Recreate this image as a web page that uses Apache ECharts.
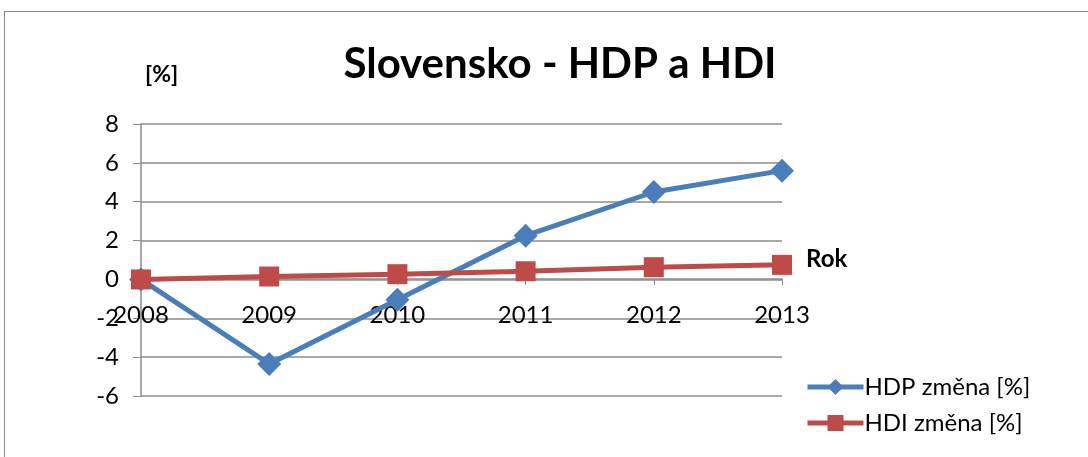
<!DOCTYPE html>
<html lang="sk">
<head>
    <meta charset="UTF-8">
    <title>Slovensko - HDP a HDI</title>
    <script src="https://cdn.jsdelivr.net/npm/echarts@6/dist/echarts.min.js"></script>
    <style>
        html, body { margin: 0; padding: 0; background: #fff; }
        #wrap { position: relative; width: 1088px; height: 457px; overflow: hidden; }
        #frame {
            position: absolute; left: 4px; top: 11px; width: 1100px; height: 460px;
            border: 1px solid #8a8a8a; box-sizing: border-box;
        }
        #chart { position: absolute; left: 0; top: 0; width: 1088px; height: 457px; }
    </style>
</head>
<body>
    <div id="wrap">
        <div id="frame"></div>
        <div id="chart"></div>
    </div>
    <script>
        var years = ['2008', '2009', '2010', '2011', '2012', '2013'];
        var hdp = [0, -4.35, -1.05, 2.25, 4.5, 5.6];
        var hdi = [0, 0.15, 0.27, 0.42, 0.63, 0.75];

        var font = 'Lato, "Open Sans", sans-serif';
        // grid height 272px, 0 sits 6/14 of it above the bottom
        var zeroOffset = -Math.round(272 * 6 / 14);
        var myChart = echarts.init(document.getElementById('chart'));
        var option = {
            animation: false,
            title: {
                text: 'Slovensko - HDP a HDI',
                left: 555,
                top: 38,
                textAlign: 'center',
                textStyle: { fontFamily: font, fontSize: 42, fontWeight: 'bold', color: '#000' }
            },
            grid: { left: 141, right: 306, top: 124, bottom: 61 },
            legend: {
                orient: 'vertical',
                left: 800,
                top: 370,
                itemWidth: 56,
                itemHeight: 20,
                itemGap: 12,
                lineStyle: { width: 5 },
                textStyle: { fontFamily: font, fontSize: 24, color: '#000', padding: [0, 0, 0, -4] },
                data: ['HDP změna [%]', 'HDI změna [%]']
            },
            xAxis: {
                type: 'category',
                data: years,
                boundaryGap: false,
                offset: zeroOffset,
                name: 'Rok',
                nameLocation: 'end',
                nameGap: 24,
                nameTextStyle: { fontFamily: font, fontSize: 24, fontWeight: 'bold', color: '#000', verticalAlign: 'bottom', padding: [0, 0, 8, 0] },
                axisLine: { onZero: false, lineStyle: { color: '#8c8c8c', width: 1.5 } },
                axisTick: { show: true, alignWithLabel: true, length: 6, lineStyle: { color: '#8c8c8c' } },
                axisLabel: { fontFamily: font, fontSize: 24, color: '#000', margin: 24 },
                splitLine: { show: false }
            },
            yAxis: {
                type: 'value',
                min: -6,
                max: 8,
                interval: 2,
                name: '[%]',
                nameLocation: 'end',
                nameGap: 38,
                nameTextStyle: { fontFamily: font, fontSize: 23, fontWeight: 'bold', color: '#000', align: 'left', padding: [0, 0, 0, 4] },
                axisLine: { show: true, lineStyle: { color: '#8c8c8c', width: 1.5 } },
                axisTick: { show: true, inside: false, length: 8, lineStyle: { color: '#8c8c8c' } },
                axisLabel: { fontFamily: font, fontSize: 24, color: '#000', margin: 22 },
                splitLine: { lineStyle: { color: '#8c8c8c', width: 1.5 } }
            },
            series: [
                {
                    name: 'HDP změna [%]',
                    type: 'line',
                    data: hdp,
                    symbol: 'diamond',
                    symbolSize: 24,
                    color: '#4a7ebb',
                    lineStyle: { width: 5, color: '#4a7ebb' },
                    itemStyle: { color: '#4a7ebb' },
                    z: 3
                },
                {
                    name: 'HDI změna [%]',
                    type: 'line',
                    data: hdi,
                    symbol: 'rect',
                    symbolSize: 20,
                    color: '#be4b48',
                    lineStyle: { width: 5, color: '#be4b48' },
                    itemStyle: { color: '#be4b48' },
                    z: 4
                }
            ]
        };
        myChart.setOption(option);
    </script>
</body>
</html>
